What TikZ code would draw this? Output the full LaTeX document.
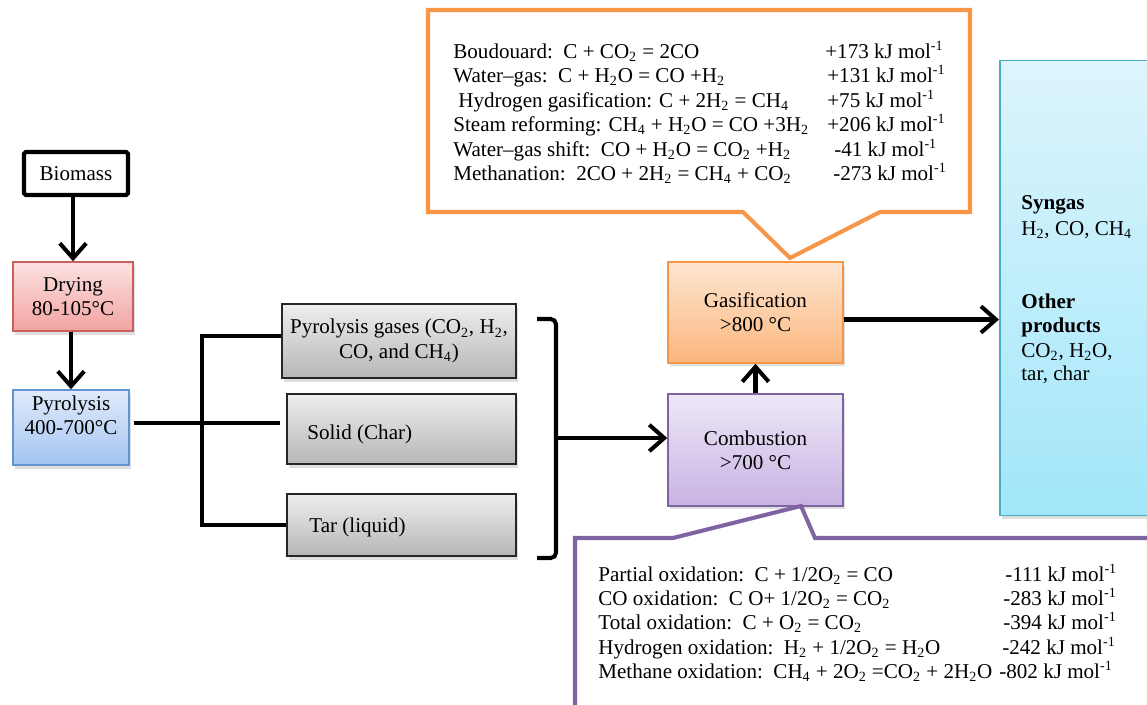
\documentclass[tikz,border=0pt]{standalone}
\usepackage{fontspec}
\setmainfont{Liberation Serif}
\usetikzlibrary{arrows.meta,shadows}
\newcommand{\lo}[1]{\textsubscript{#1}}
\newcommand{\kj}{kJ mol\textsuperscript{-1}}
\definecolor{cRed}{HTML}{C9605E}
\definecolor{cRedT}{HTML}{FBE2E1}
\definecolor{cRedB}{HTML}{F2A3A2}
\definecolor{cBlue}{HTML}{6494CF}
\definecolor{cBlueT}{HTML}{E0EAFA}
\definecolor{cBlueB}{HTML}{A3C4F2}
\definecolor{cGreyT}{HTML}{EEEEEE}
\definecolor{cGreyB}{HTML}{B6B6B6}
\definecolor{cOr}{HTML}{F79646}
\definecolor{cOrT}{HTML}{FEE6D2}
\definecolor{cOrB}{HTML}{FBB67C}
\definecolor{cPu}{HTML}{8064A2}
\definecolor{cPuT}{HTML}{EEE7F7}
\definecolor{cPuB}{HTML}{C7B3E3}
\definecolor{cCy}{HTML}{4BACC6}
\definecolor{cCyT}{HTML}{DDF5FC}
\definecolor{cCyB}{HTML}{A2E6FA}
\begin{document}
\begin{tikzpicture}[x=0.02cm,y=-0.02cm,
  font=\fontsize{12}{13.8}\selectfont,
  box/.style={draw, line width=0.85pt, inner sep=0pt, align=center,
    drop shadow={shadow xshift=0.04cm, shadow yshift=-0.07cm, opacity=0.25}},
  redbox/.style={box, draw=cRed, top color=cRedT, bottom color=cRedB},
  bluebox/.style={box, draw=cBlue, top color=cBlueT, bottom color=cBlueB},
  greybox/.style={box, draw=black!85, top color=cGreyT, bottom color=cGreyB},
  orbox/.style={box, draw=cOr, top color=cOrT, bottom color=cOrB},
  pubox/.style={box, draw=cPu, top color=cPuT, bottom color=cPuB},
  cybox/.style={box, draw=cCy, top color=cCyT, bottom color=cCyB},
  plainbox/.style={draw, line width=2.3pt, rounded corners=1pt, fill=white, inner sep=0pt},
  lbl/.style={inner sep=0pt},
  txt/.style={inner sep=0pt, anchor=base west},
  conn/.style={line width=2.3pt},
  arr/.style={conn, -{Straight Barb[length=8.5pt,width=15pt]}},
  callout/.style={line width=2.3pt, fill=white, line join=miter}
]
\useasboundingbox (0,0) rectangle (1147,704);
\clip (0,0) rectangle (1147,704);

% left chain
\node[plainbox, minimum width=2.08cm, minimum height=0.86cm] (bio) at (76,173.5) {Biomass};
\node[redbox, minimum width=2.40cm, minimum height=1.38cm] (dry) at (73,296.5) {Drying\\80-105°C};
\node[bluebox, minimum width=2.32cm, minimum height=1.50cm] (pyro) at (71,427.5) {};
\node[lbl, align=center] (pyrot) at (71,415) {Pyrolysis\\400-700°C};

% pyrolysis products
\node[greybox, minimum width=4.68cm, minimum height=1.48cm] (gas) at (399,341) {Pyrolysis gases (CO\lo2, H\lo2,\\CO, and CH\lo4)};
\node[greybox, minimum width=4.58cm, minimum height=1.40cm] (solid) at (401.5,429) {};
\node[lbl, anchor=west] (solidt) at (307,434) {Solid (Char)};
\node[greybox, minimum width=4.58cm, minimum height=1.24cm] (tar) at (401.5,525) {};
\node[lbl, anchor=west] (tart) at (309,527) {Tar (liquid)};

% reactors
\node[orbox, minimum width=3.50cm, minimum height=2.02cm] (gasif) at (755.5,312.5) {Gasification\\>800 °C};
\node[pubox, minimum width=3.50cm, minimum height=2.24cm] (comb) at (755.5,450) {Combustion\\>700 °C};

% products box
\node[cybox, anchor=north west, minimum width=3.60cm, minimum height=9.10cm] (prod) at (999,60) {};
\node[txt] (p1) at (1021,209) {\textbf{Syngas}};
\node[txt] (p2) at (1021,235) {H\lo2, CO, CH\lo4};
\node[txt] (p3) at (1021,308) {\textbf{Other}};
\node[txt] (p4) at (1021,332) {\textbf{products}};
\node[txt] (p5) at (1021,357) {CO\lo2, H\lo2O,};
\node[txt] (p6) at (1021,380) {tar, char};

% connectors
\draw[arr] (bio.south -| dry.north) -- (dry.north);
\draw[arr] (dry.south -| pyro.north) -- (pyro.north);
\coordinate (pj) at ([yshift=0.09cm]pyro.east);
\draw[conn] ([xshift=0.08cm]pj) -- ([xshift=-0.12cm]pj -| solid.west);
\coordinate (tk) at (202,336);
\draw[conn] (gas.west |- tk) -- (tk) -- (tk |- tar.west) -- (tar.west);
\coordinate (bt) at (537,319);
\coordinate (bb) at (537,558);
\coordinate (bm) at (556,438);
\draw[conn, rounded corners=3pt] (bt) -- (bt -| bm) -- (bb -| bm) -- (bb);
\draw[arr] (bm) -- (bm -| comb.west);
\draw[arr] (comb.north) -- (gasif.south);
\coordinate (ga) at ([yshift=-0.14cm]gasif.east);
\draw[arr] (ga) -- (ga -| prod.west);

% top callout
\draw[callout, draw=cOr] (428,10) -- (970,10) -- (970,212) -- (880,212) -- (790,258) -- (743,212) -- (428,212) -- cycle;
\node[txt] (tl1) at (453,58)    {Boudouard:\ \ C + CO\lo2 = 2CO};
\node[txt] (tl2) at (453,82.5)  {Water–gas:\ \ C + H\lo2O = CO +H\lo2};
\node[txt] (tl3) at (458,107)   {Hydrogen gasification: C + 2H\lo2 = CH\lo4};
\node[txt] (tl4) at (453,131.5) {Steam reforming: CH\lo4 + H\lo2O = CO +3H\lo2};
\node[txt] (tl5) at (453,156)   {Water–gas shift:\ \ CO + H\lo2O = CO\lo2 +H\lo2};
\node[txt] (tl6) at (453,180.5) {Methanation:\ \ 2CO + 2H\lo2 = CH\lo4 + CO\lo2};
\node[txt] (tr1) at (825,58)    {+173 \kj};
\node[txt] (tr2) at (827,82.5)  {+131 \kj};
\node[txt] (tr3) at (827,107)   {+75 \kj};
\node[txt] (tr4) at (827,131.5) {+206 \kj};
\node[txt] (tr5) at (834,156)   {-41 \kj};
\node[txt] (tr6) at (833,180.5) {-273 \kj};

% bottom callout
\draw[callout, draw=cPu] (575,720) -- (575,538) -- (673,538) -- (801,506) -- (815,538) -- (1170,538);
\node[txt] (bl1) at (598,581)   {Partial oxidation:\ \ C + 1/2O\lo2 = CO};
\node[txt] (bl2) at (598,605.3) {CO oxidation:\ \ C O+ 1/2O\lo2 = CO\lo2};
\node[txt] (bl3) at (598,629.6) {Total oxidation:\ \ C + O\lo2 = CO\lo2};
\node[txt] (bl4) at (598,654)   {Hydrogen oxidation:\ \ H\lo2 + 1/2O\lo2 = H\lo2O};
\node[txt] (bl5) at (598,678.2) {Methane oxidation:\ \ CH\lo4 + 2O\lo2 =CO\lo2 + 2H\lo2O};
\node[txt] (br1) at (1005,581)   {-111 \kj};
\node[txt] (br2) at (1003,605.3) {-283 \kj};
\node[txt] (br3) at (1003,629.6) {-394 \kj};
\node[txt] (br4) at (1002,654)   {-242 \kj};
\node[txt] (br5) at (999,678.2)  {-802 \kj};
\end{tikzpicture}
\end{document}
